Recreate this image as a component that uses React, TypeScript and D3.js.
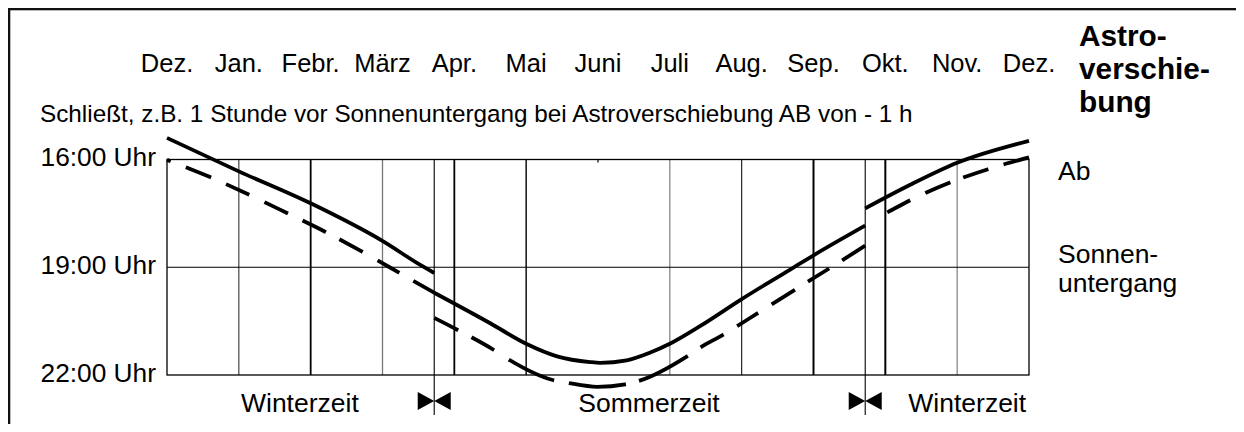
import React, { useEffect } from "react";
import * as d3 from "d3";

// ---- data ----
const MONTHS = ["Dez.", "Jan.", "Febr.", "März", "Apr.", "Mai", "Juni", "Juli", "Aug.", "Sep.", "Okt.", "Nov.", "Dez."];
const Y_TICKS = [16, 19, 22];
const Y_TICK_LABELS = ["16:00 Uhr", "19:00 Uhr", "22:00 Uhr"];
const DST_SWITCH = [3.72, 9.72];
const GRID_MONTHS = [1, 2, 3, 4, 5, 7, 8, 9, 10, 11];

// [month index, hour]
const solidWinterSpring: [number, number][] = [
  [0, 15.4], [1.0, 16.33], [2.0, 17.22], [3.01, 18.28], [3.52, 18.93], [3.72, 19.16],
];
const dashedWinterSpring: [number, number][] = [
  [0, 16.01], [0.6, 16.49], [1.13, 16.97], [1.67, 17.49], [2.2, 18.01], [2.71, 18.56], [3.23, 19.15], [3.72, 19.71],
];
const solidSummer: [number, number][] = [
  [3.72, 19.71], [4.5, 20.56], [5.0, 21.13], [5.43, 21.48], [5.89, 21.64], [6.03, 21.66],
  [6.4, 21.59], [6.72, 21.38], [7.0, 21.13], [7.42, 20.64], [7.99, 19.9], [8.67, 19.07], [8.99, 18.68], [9.72, 17.84],
];
const dashedSummer: [number, number][] = [
  [3.72, 20.41], [4.04, 20.74], [4.54, 21.29], [4.75, 21.56], [5.37, 22.14], [5.58, 22.22], [5.99, 22.33],
  [6.38, 22.26], [6.56, 22.17], [7.24, 21.48], [7.42, 21.24], [7.74, 20.88], [8.23, 20.27], [8.74, 19.63],
  [9.23, 19.02], [9.72, 18.4],
];
const solidWinterAutumn: [number, number][] = [
  [9.72, 17.36], [10.34, 16.71], [11.0, 16.09], [12.0, 15.48],
];
const dashedWinterAutumn: [number, number][] = [
  [9.72, 17.79], [10.02, 17.48], [10.34, 17.14], [10.9, 16.64], [11.43, 16.27], [12.0, 15.94],
];
const SIDE_TITLE = ["Astro-", "verschie-", "bung"];
const SIDE_AB = "Ab";
const SIDE_SUNSET = ["Sonnen-", "untergang"];
const SUBTITLE = "Schließt, z.B. 1 Stunde vor Sonnenuntergang bei Astroverschiebung AB von - 1 h";
const SEASONS = [
  { label: "Winterzeit", m: 1.85 },
  { label: "Sommerzeit", m: 6.71 },
  { label: "Winterzeit", m: 11.14 },
];

// ---- styles ----
const FONT = "'Liberation Sans', Arial, Helvetica, sans-serif";
const GRID_STYLE: Record<number, { w: number; c: string }> = {
  1: { w: 1.1, c: "#333" }, 2: { w: 1.8, c: "#000" }, 3: { w: 1.3, c: "#777" }, 4: { w: 1.8, c: "#000" },
  5: { w: 1.5, c: "#111" }, 7: { w: 1.3, c: "#888" }, 8: { w: 1.1, c: "#111" }, 9: { w: 2, c: "#000" },
  10: { w: 2, c: "#000" }, 11: { w: 1.3, c: "#888" },
};
const DASH_WS = "4 16.3 27.2 16.4 25.5 16.9 26.1 16.2 26.1 15.3 26.5 17.1 25 16.1 80";
const DASH_S = "27 15 26 17.5 50 15 57.5 13.5 55 15.3 26.4 16 24.7 16 27.5 15.3 25 15.3 60";
const DASH_WA = "0 24.8 26 16.7 27.2 13.7 26.6 15.8 60";

export default function App() {
  useEffect(() => {
    document.documentElement.style.overflow = "hidden";
  }, []);

  const x = d3.scaleLinear().domain([0, 12]).range([167, 1029]);
  const y = d3.scaleLinear().domain([16, 22]).range([159.5, 375]);
  const line = d3
    .line<[number, number]>()
    .x((d) => x(d[0]))
    .y((d) => y(d[1]))
    .curve(d3.curveMonotoneX);

  const top = y(16);
  const bottom = y(22);
  const left = x(0);
  const right = x(12);

  const bowtie = (cx: number, cy: number) =>
    `M${cx - 16.5},${cy - 9} L${cx},${cy} L${cx - 16.5},${cy + 9} Z M${cx + 16.5},${cy - 9} L${cx},${cy} L${cx + 16.5},${cy + 9} Z`;

  return (
    <div style={{ marginBottom: -8 }}>
      <svg width={1236} height={424} style={{ display: "block" }}>
        <g transform="translate(-8,-8)" fontFamily={FONT} fill="#000">
          <rect x={0} y={0} width={1260} height={450} fill="#fff" />
          {/* outer frame */}
          <rect x={9} y={9} width={1300} height={500} fill="none" stroke="#111" strokeWidth={2.6} />

          {/* month labels */}
          {MONTHS.map((mth, i) => (
            <text key={"m" + i} x={x(i)} y={71.5} textAnchor="middle" fontSize={25.5}>
              {mth}
            </text>
          ))}

          {/* subtitle */}
          <text x={40} y={122} fontSize={24.3}>
            {SUBTITLE}
          </text>

          {/* side title */}
          {SIDE_TITLE.map((t, i) => (
            <text key={"st" + i} x={1079} y={46 + i * 33} fontSize={29.8} fontWeight="bold">
              {t}
            </text>
          ))}
          <text x={1058} y={180} fontSize={26.5}>
            {SIDE_AB}
          </text>
          {SIDE_SUNSET.map((t, i) => (
            <text key={"ss" + i} x={1058} y={263 + i * 29} fontSize={26.5}>
              {t}
            </text>
          ))}

          {/* y tick labels */}
          {Y_TICKS.map((h, i) => (
            <text key={"y" + i} x={156} y={y(h) + 6.8} textAnchor="end" fontSize={26.3}>
              {Y_TICK_LABELS[i]}
            </text>
          ))}

          {/* grid */}
          {GRID_MONTHS.map((m) => (
            <line
              key={"g" + m}
              x1={x(m)}
              x2={x(m)}
              y1={top}
              y2={bottom}
              stroke={GRID_STYLE[m].c}
              strokeWidth={GRID_STYLE[m].w}
            />
          ))}
          <line x1={x(6)} x2={x(6)} y1={top} y2={top + 3} stroke="#000" strokeWidth={1.2} />
          <line x1={left} x2={right} y1={y(19)} y2={y(19)} stroke="#000" strokeWidth={1.2} />
          <rect x={left} y={top} width={right - left} height={bottom - top} fill="none" stroke="#000" strokeWidth={1.3} />

          {/* DST switch lines */}
          {DST_SWITCH.map((m, i) => (
            <g key={"dst" + i}>
              <line x1={x(m)} x2={x(m)} y1={top} y2={415} stroke="#000" strokeWidth={1.1} />
              <path d={bowtie(x(m), 401)} fill="#000" />
            </g>
          ))}

          {/* season labels */}
          {SEASONS.map((s, i) => (
            <text key={"s" + i} x={x(s.m)} y={412} textAnchor="middle" fontSize={26.5}>
              {s.label}
            </text>
          ))}

          {/* curves */}
          <g fill="none" stroke="#000" strokeWidth={3.8}>
            <path d={line(solidWinterSpring) || ""} />
            <path d={line(dashedWinterSpring) || ""} strokeDasharray={DASH_WS} />
            <path d={line(solidSummer) || ""} />
            <path d={line(dashedSummer) || ""} strokeDasharray={DASH_S} />
            <path d={line(solidWinterAutumn) || ""} />
            <path d={line(dashedWinterAutumn) || ""} strokeDasharray={DASH_WA} />
          </g>
        </g>
      </svg>
    </div>
  );
}
